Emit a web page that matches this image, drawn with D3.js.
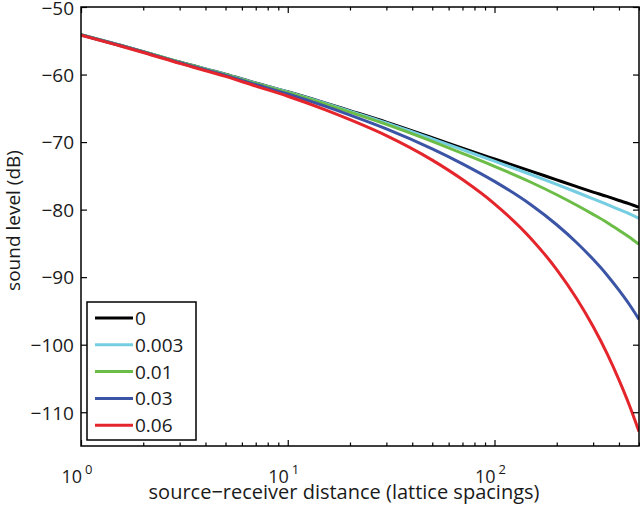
<!DOCTYPE html>
<html>
<head>
<meta charset="utf-8">
<script src="https://cdn.jsdelivr.net/npm/d3@7"></script>
<style>
  html, body { margin: 0; padding: 0; background: #fff; }
  svg text { font-family: "Open Sans", sans-serif; fill: #1a1a1a; }
</style>
</head>
<body>
<svg id="chart" width="640" height="505"></svg>
<script>
// ---- data ----
const distances = [1, 1.5, 2, 3, 5, 7, 10, 15, 20, 30, 50, 70, 100, 150, 200, 250, 300, 350, 400, 450, 500];
const seriesNames = ["0", "0.003", "0.01", "0.03", "0.06"];
const level_0     = [-54.10, -55.55, -56.60, -58.15, -59.95, -61.25, -62.55, -64.15, -65.35, -67.05, -69.35, -70.90, -72.50, -74.30, -75.60, -76.60, -77.40, -78.05, -78.65, -79.15, -79.65];
const level_0003  = [-54.10, -55.56, -56.61, -58.16, -59.97, -61.27, -62.58, -64.20, -65.42, -67.15, -69.52, -71.13, -72.83, -74.80, -76.26, -77.43, -78.40, -79.21, -79.98, -80.64, -81.30];
const level_001   = [-54.11, -55.57, -56.62, -58.18, -60.01, -61.33, -62.66, -64.32, -65.57, -67.38, -69.90, -71.67, -73.60, -75.95, -77.80, -79.35, -80.70, -81.90, -83.05, -84.10, -85.15];
const level_003   = [-54.13, -55.60, -56.67, -58.25, -60.12, -61.48, -62.88, -64.65, -66.01, -68.05, -71.01, -73.22, -75.82, -79.28, -82.24, -84.90, -87.36, -89.67, -91.93, -94.09, -96.25];
const level_006   = [-54.17, -55.65, -56.73, -58.35, -60.28, -61.71, -63.21, -65.15, -66.68, -69.04, -72.67, -75.55, -79.14, -84.26, -88.88, -93.20, -97.32, -101.29, -105.21, -109.03, -112.85];
const seriesColors = ["#000000", "#74cde0", "#6cbd47", "#3b54a5", "#e4252b"];
const yTicks = [-110, -100, -90, -80, -70, -60, -50];
const xMajorTicks = [1, 10, 100];
const xMajorExp = ["0", "1", "2"];
const xMinorTicks = [2, 3, 4, 5, 6, 7, 8, 9, 20, 30, 40, 50, 60, 70, 80, 90, 200, 300, 400, 500];
const xLabel = "source\u2212receiver distance (lattice spacings)";
const yLabel = "sound level (dB)";

const allSeries = [level_0, level_0003, level_001, level_003, level_006];

// ---- layout ----
const L = 81, R = 639, T = 7, B = 446;
const svg = d3.select("#chart");
const x = d3.scaleLog().domain([1, 500]).range([L, R]);
const y = d3.scaleLinear().domain([-115, -50]).range([B, T]);

// curves
const line = d3.line()
  .x((d, i) => x(distances[i]))
  .y(d => y(d))
  .curve(d3.curveMonotoneX);

svg.append("clipPath").attr("id", "plotclip")
  .append("rect").attr("x", L).attr("y", T).attr("width", R - L).attr("height", B - T);

svg.append("g").attr("clip-path", "url(#plotclip)")
  .selectAll("path").data(allSeries).join("path")
  .attr("d", d => line(d))
  .attr("fill", "none")
  .attr("stroke", (d, i) => seriesColors[i])
  .attr("stroke-width", 3)
  .attr("stroke-linejoin", "round");

// axes (ticks inward, mirrored)
function styleAxis(g) {
  g.select(".domain").remove();
  g.selectAll(".tick line").attr("stroke", "#000").attr("stroke-width", 1.2);
}
svg.append("g").attr("transform", `translate(0,${B})`)
  .call(d3.axisBottom(x).tickValues(xMajorTicks).tickSize(-6).tickFormat(""))
  .call(styleAxis);
svg.append("g").attr("transform", `translate(0,${B})`)
  .call(d3.axisBottom(x).tickValues(xMinorTicks).tickSize(-3.5).tickFormat(""))
  .call(styleAxis);
svg.append("g").attr("transform", `translate(0,${T})`)
  .call(d3.axisTop(x).tickValues(xMajorTicks).tickSize(-6).tickFormat(""))
  .call(styleAxis);
svg.append("g").attr("transform", `translate(0,${T})`)
  .call(d3.axisTop(x).tickValues(xMinorTicks).tickSize(-3.5).tickFormat(""))
  .call(styleAxis);
const yAxisG = svg.append("g").attr("transform", `translate(${L},0)`)
  .call(d3.axisLeft(y).tickValues(yTicks).tickSize(-6).tickPadding(7)
    .tickFormat(d => (d < 0 ? "\u2212" : "") + Math.abs(d)))
  .call(styleAxis);
yAxisG.selectAll(".tick text")
  .attr("font-size", 19).attr("font-family", "Open Sans, sans-serif").attr("fill", "#1a1a1a")
  .attr("dy", "0.36em");
yAxisG.selectAll(".tick").filter(d => d === -50).select("text").attr("dy", "0.42em");
svg.append("g").attr("transform", `translate(${R},0)`)
  .call(d3.axisRight(y).tickValues(yTicks).tickSize(-6).tickFormat(""))
  .call(styleAxis);

// frame
svg.append("rect").attr("x", L).attr("y", T).attr("width", R - L).attr("height", B - T)
  .attr("fill", "none").attr("stroke", "#000").attr("stroke-width", 1.5);

// x tick labels with superscripts
const xl = svg.append("g");
xMajorTicks.forEach((v, i) => {
  xl.append("text").attr("x", x(v) + 1).attr("y", 483)
    .attr("text-anchor", "end").attr("font-size", 18).text("10");
  xl.append("text").attr("x", x(v) + 4).attr("y", 474)
    .attr("font-size", 13).text(xMajorExp[i]);
});

// axis labels
svg.append("text").attr("x", (L + R) / 2 - 16).attr("y", 499)
  .attr("text-anchor", "middle").attr("font-size", 20).text(xLabel);
svg.append("text").attr("transform", `translate(20,${(T + B) / 2 - 6}) rotate(-90)`)
  .attr("text-anchor", "middle").attr("font-size", 19).text(yLabel);

// legend
const lg = svg.append("g");
lg.append("rect").attr("x", 87).attr("y", 302).attr("width", 109).attr("height", 138)
  .attr("fill", "#fff").attr("stroke", "#000").attr("stroke-width", 1.5);
seriesNames.forEach((name, i) => {
  const cy = 318 + i * 26.8;
  lg.append("line").attr("x1", 95).attr("x2", 133).attr("y1", cy).attr("y2", cy)
    .attr("stroke", seriesColors[i]).attr("stroke-width", 3);
  lg.append("text").attr("x", 135).attr("y", cy + 7).attr("font-size", 19).text(name);
});
</script>
</body>
</html>
